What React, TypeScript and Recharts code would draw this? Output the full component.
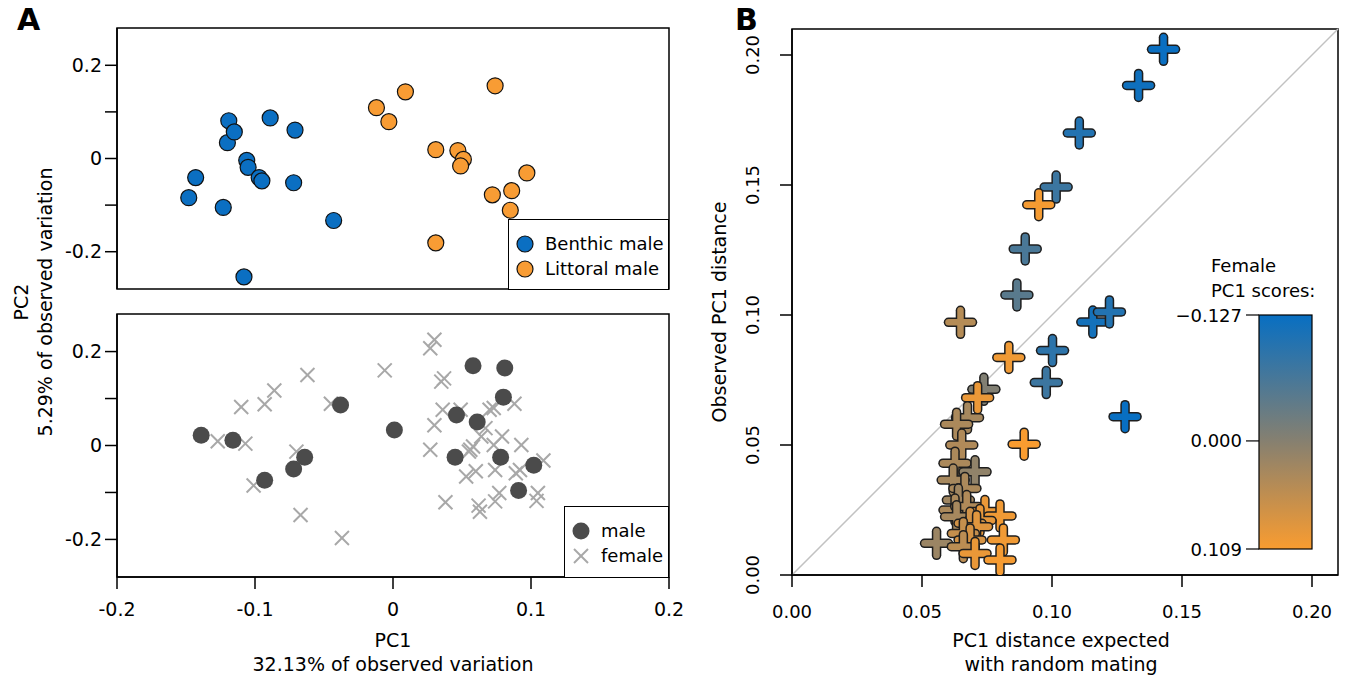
import React from "react";
import {
  Label,
  ReferenceArea,
  ReferenceLine,
  Scatter,
  ScatterChart,
  XAxis,
  YAxis,
} from "recharts";

// ---- panel A (top): male PC scores, [PC1, PC2]
const benthicMale: [number, number][] = [
  [-0.148, -0.084], [-0.143, -0.041], [-0.123, -0.105], [-0.12, 0.034],
  [-0.119, 0.081], [-0.115, 0.057], [-0.106, -0.004], [-0.105, -0.019],
  [-0.097, -0.041], [-0.095, -0.048], [-0.108, -0.254], [-0.089, 0.087],
  [-0.072, -0.052], [-0.071, 0.061], [-0.043, -0.133],
];
const littoralMale: [number, number][] = [
  [-0.012, 0.109], [0.009, 0.143], [-0.003, 0.079], [0.031, 0.019],
  [0.047, 0.017], [0.051, -0.002], [0.049, -0.016], [0.074, 0.156],
  [0.097, -0.031], [0.086, -0.069], [0.072, -0.078], [0.085, -0.111],
  [0.031, -0.181],
];

// ---- panel A (bottom): males and females
const males: [number, number][] = [
  [-0.139, 0.022], [-0.116, 0.011], [-0.093, -0.074], [-0.072, -0.05],
  [-0.064, -0.025], [-0.038, 0.086], [0.001, 0.033], [0.046, 0.065],
  [0.058, 0.17], [0.061, 0.05], [0.081, 0.165], [0.08, 0.103],
  [0.045, -0.025], [0.078, -0.025], [0.102, -0.042], [0.091, -0.096],
];
const females: [number, number][] = [
  [-0.127, 0.009], [-0.11, 0.082], [-0.107, 0.004], [-0.101, -0.085],
  [-0.093, 0.088], [-0.086, 0.117], [-0.07, -0.013], [-0.067, -0.148],
  [-0.062, 0.15], [-0.045, 0.089], [-0.037, -0.197], [-0.006, 0.16],
  [0.027, 0.207], [0.03, 0.225], [0.03, 0.043], [0.027, -0.009],
  [0.035, 0.136], [0.037, 0.143], [0.036, 0.076], [0.038, -0.121],
  [0.049, 0.076], [0.053, -0.066], [0.056, -0.009], [0.058, -0.002],
  [0.055, -0.013], [0.06, -0.055], [0.062, -0.128], [0.063, -0.141],
  [0.064, 0.019], [0.067, 0.037], [0.07, 0.076], [0.073, 0.08],
  [0.073, 0.001], [0.074, -0.052], [0.074, -0.119], [0.077, -0.101],
  [0.079, 0.019], [0.088, 0.089], [0.089, -0.059], [0.093, 0.001],
  [0.092, -0.052], [0.105, -0.101], [0.104, -0.118], [0.109, -0.032],
];

// ---- panel B: [expected distance, observed distance, female PC1 score]
const pairDistances: [number, number, number][] = [
  [0.1429, 0.2022, -0.125], [0.1333, 0.1883, -0.12], [0.1105, 0.17, -0.1],
  [0.1016, 0.1492, -0.075], [0.0949, 0.1424, 0.105], [0.0897, 0.1254, -0.06],
  [0.0865, 0.1077, -0.045], [0.0648, 0.0972, 0.045], [0.1157, 0.0973, -0.115],
  [0.1221, 0.1012, -0.1], [0.1002, 0.0863, -0.09], [0.0978, 0.074, -0.075],
  [0.0738, 0.0714, -0.005], [0.0834, 0.0837, 0.1], [0.0714, 0.0682, 0.095],
  [0.1281, 0.0609, -0.127], [0.0893, 0.0503, 0.109],
  [0.0675, 0.0605, 0.03], [0.0633, 0.058, 0.035], [0.0653, 0.05, 0.04],
  [0.0627, 0.043, 0.035], [0.0704, 0.0397, 0.01], [0.062, 0.0365, 0.03],
  [0.0665, 0.0333, 0.035], [0.064, 0.0288, 0.025], [0.0627, 0.025, 0.035],
  [0.0672, 0.0263, 0.04], [0.0633, 0.0224, 0.03], [0.0742, 0.0244, 0.095],
  [0.08, 0.0227, 0.1], [0.0723, 0.021, 0.09], [0.0685, 0.0199, 0.07],
  [0.071, 0.0186, 0.085], [0.0659, 0.016, 0.06], [0.0556, 0.0122, 0.02],
  [0.0685, 0.0135, 0.075], [0.0813, 0.0135, 0.1], [0.0659, 0.0109, 0.05],
  [0.0704, 0.0083, 0.095], [0.08, 0.0058, 0.105],
];

const A_TICKS = [-0.2, -0.1, 0, 0.1, 0.2];
const B_TICKS = [0, 0.05, 0.1, 0.15, 0.2];
const SCORE_MIN = -0.127;
const SCORE_MAX = 0.109;
const SCORE_LABELS = ["\u22120.127", "0.000", "0.109"];

const FONT = "'DejaVu Sans', sans-serif";
const BLUE = "#0b6fc2";
const ORANGE = "#f89c34";
const STOPS: [number, number[]][] = [
  [SCORE_MIN, [8, 111, 194]],
  [0, [134, 128, 112]],
  [SCORE_MAX, [249, 156, 48]],
];

function scoreColor(s: number) {
  const [lo, hi] = s <= 0 ? [STOPS[0], STOPS[1]] : [STOPS[1], STOPS[2]];
  const t = Math.max(0, Math.min(1, (s - lo[0]) / (hi[0] - lo[0])));
  const c = lo[1].map((v, i) => Math.round(v + (hi[1][i] - v) * t));
  return `rgb(${c.join(",")})`;
}

const toXY = (arr: [number, number][]) => arr.map(([x, y]) => ({ x, y }));

const fmtA = (v: number) => {
  const r = Math.round(v * 10);
  if (r % 2 !== 0) return "";
  return r === 0 ? "0" : String(r / 10);
};

const circle = (fill: string, stroke?: string, r = 8) => (p: any) => (
  <circle cx={p.cx} cy={p.cy} r={r} fill={fill} stroke={stroke ?? "none"} strokeWidth={1.2} />
);

const Cross = (p: any) => {
  const d = 7;
  return (
    <g stroke="#a8a8a8" strokeWidth={2}>
      <line x1={p.cx - d} y1={p.cy - d} x2={p.cx + d} y2={p.cy + d} />
      <line x1={p.cx - d} y1={p.cy + d} x2={p.cx + d} y2={p.cy - d} />
    </g>
  );
};

const Plus = (p: any) => {
  const a = 12;
  const c = scoreColor(p.payload.score);
  const { cx, cy } = p;
  return (
    <g strokeLinecap="round">
      <line x1={cx - a} y1={cy} x2={cx + a} y2={cy} stroke="#1e1e1e" strokeWidth={9.5} />
      <line x1={cx} y1={cy - a} x2={cx} y2={cy + a} stroke="#1e1e1e" strokeWidth={9.5} />
      <line x1={cx - a} y1={cy} x2={cx + a} y2={cy} stroke={c} strokeWidth={6.5} />
      <line x1={cx} y1={cy - a} x2={cx} y2={cy + a} stroke={c} strokeWidth={6.5} />
    </g>
  );
};

const BYTick = (p: any) => (
  <text
    x={p.x}
    y={p.y}
    transform={`rotate(-90 ${p.x} ${p.y})`}
    textAnchor="middle"
    fontSize={18}
    fontFamily={FONT}
    fill="#000"
  >
    {Number(p.payload.value).toFixed(2)}
  </text>
);

const axisStroke = { stroke: "#000", strokeWidth: 1.5 };
const tickA = { fill: "#000", fontSize: 19, fontFamily: FONT };
const tickB = { fill: "#000", fontSize: 18, fontFamily: FONT };

const abs = (left: number, top: number): React.CSSProperties => ({
  position: "absolute",
  left,
  top,
});

function LegendBox({
  left,
  top,
  width,
  height,
  items,
}: {
  left: number;
  top: number;
  width: number;
  height: number;
  items: { label: string; icon: React.ReactNode }[];
}) {
  return (
    <div
      style={{
        ...abs(left, top),
        width,
        height,
        boxSizing: "border-box",
        border: "1.5px solid #000",
        background: "#fff",
        fontFamily: FONT,
        fontSize: 18,
        paddingTop: 11,
        paddingLeft: 6,
      }}
    >
      {items.map((it) => (
        <div key={it.label} style={{ display: "flex", alignItems: "center", height: 25 }}>
          <svg width={20} height={20} style={{ marginRight: 10 }}>
            {it.icon}
          </svg>
          <span>{it.label}</span>
        </div>
      ))}
    </div>
  );
}

function ColorBar() {
  const barTop = 65;
  const barH = 234;
  const zeroY = barTop + ((0 - SCORE_MIN) / (SCORE_MAX - SCORE_MIN)) * barH;
  const tickYs = [barTop, zeroY, barTop + barH];
  return (
    <svg width={170} height={310} style={abs(1170, 250)} fontFamily={FONT}>
      <defs>
        <linearGradient id="scoreGrad" x1="0" y1="0" x2="0" y2="1">
          {STOPS.map(([s, c]) => (
            <stop
              key={s}
              offset={(s - SCORE_MIN) / (SCORE_MAX - SCORE_MIN)}
              stopColor={`rgb(${c.join(",")})`}
            />
          ))}
        </linearGradient>
      </defs>
      <text x={41} y={22} fontSize={18} fill="#000">Female</text>
      <text x={41} y={47} fontSize={18} fill="#000">PC1 scores:</text>
      <rect x={89} y={barTop} width={53} height={barH} fill="url(#scoreGrad)" stroke="#000" strokeWidth={1.2} />
      {tickYs.map((y, i) => (
        <g key={i}>
          <line x1={76} x2={89} y1={y} y2={y} stroke="#000" strokeWidth={1.2} />
          <text x={72} y={y + 6.5} fontSize={18} textAnchor="end" fill="#000">
            {SCORE_LABELS[i]}
          </text>
        </g>
      ))}
    </svg>
  );
}

export default function App() {
  const benthic = toXY(benthicMale);
  const littoral = toXY(littoralMale);
  const male = toXY(males);
  const female = toXY(females);
  const pairs = pairDistances.map(([x, y, score]) => ({ x, y, score }));

  return (
    <div style={{ position: "absolute", left: 0, top: 0, width: 1349, height: 682, background: "#fff" }}>
      {/* A, top */}
      <div style={abs(0, 0)}>
        <ScatterChart width={700} height={300} margin={{ top: 28, right: 31, bottom: 11, left: 0 }}>
          <XAxis type="number" dataKey="x" domain={[-0.2, 0.2]} hide allowDataOverflow />
          <YAxis
            type="number"
            dataKey="y"
            domain={[-0.28, 0.28]}
            ticks={A_TICKS}
            interval={0}
            width={117}
            tickSize={12}
            tickMargin={3}
            tick={tickA}
            tickFormatter={fmtA}
            axisLine={axisStroke}
            tickLine={axisStroke}
            allowDataOverflow
          />
          <ReferenceArea x1={-0.2} x2={0.2} y1={-0.28} y2={0.28} fill="none" stroke="#000" strokeWidth={1.5} ifOverflow="visible" />
          <Scatter data={benthic} fill={BLUE} shape={circle(BLUE, "#111")} isAnimationActive={false} />
          <Scatter data={littoral} fill={ORANGE} shape={circle(ORANGE, "#111")} isAnimationActive={false} />
        </ScatterChart>
      </div>

      {/* A, bottom */}
      <div style={abs(0, 300)}>
        <ScatterChart width={700} height={382} margin={{ top: 14, right: 31, bottom: 0, left: 0 }}>
          <XAxis
            type="number"
            dataKey="x"
            domain={[-0.2, 0.2]}
            ticks={A_TICKS}
            interval={0}
            height={105}
            tickSize={12}
            tickMargin={14}
            tick={tickA}
            tickFormatter={(v: number) => (v === 0 ? "0" : String(v))}
            axisLine={axisStroke}
            tickLine={axisStroke}
            allowDataOverflow
          >
            <Label
              content={() => (
                <text x={393} textAnchor="middle" fontSize={19} fontFamily={FONT} fill="#000">
                  <tspan x={393} y={347}>PC1</tspan>
                  <tspan x={393} y={371}>32.13% of observed variation</tspan>
                </text>
              )}
            />
          </XAxis>
          <YAxis
            type="number"
            dataKey="y"
            domain={[-0.28, 0.28]}
            ticks={A_TICKS}
            interval={0}
            width={117}
            tickSize={12}
            tickMargin={3}
            tick={tickA}
            tickFormatter={fmtA}
            axisLine={axisStroke}
            tickLine={axisStroke}
            allowDataOverflow
          />
          <ReferenceArea x1={-0.2} x2={0.2} y1={-0.28} y2={0.28} fill="none" stroke="#000" strokeWidth={1.5} ifOverflow="visible" />
          <Scatter data={female} fill="#a8a8a8" shape={Cross} isAnimationActive={false} />
          <Scatter data={male} fill="#4b4b4b" shape={circle("#4b4b4b", undefined, 8.5)} isAnimationActive={false} />
        </ScatterChart>
      </div>

      {/* B */}
      <div style={abs(700, 0)}>
        <ScatterChart width={649} height={682} margin={{ top: 29, right: 11, bottom: 0, left: 0 }}>
          <XAxis
            type="number"
            dataKey="x"
            domain={[0, 0.21]}
            ticks={B_TICKS}
            interval={0}
            height={107}
            tickSize={12}
            tickMargin={18}
            tick={tickB}
            tickFormatter={(v: number) => v.toFixed(2)}
            axisLine={axisStroke}
            tickLine={axisStroke}
            allowDataOverflow
          >
            <Label
              content={() => (
                <text textAnchor="middle" fontSize={19} fontFamily={FONT} fill="#000">
                  <tspan x={361} y={647}>PC1 distance expected</tspan>
                  <tspan x={361} y={671}>with random mating</tspan>
                </text>
              )}
            />
          </XAxis>
          <YAxis
            type="number"
            dataKey="y"
            domain={[0, 0.21]}
            ticks={B_TICKS}
            interval={0}
            width={92}
            tickSize={12}
            tickMargin={21}
            tick={BYTick}
            axisLine={axisStroke}
            tickLine={axisStroke}
            allowDataOverflow
          >
            <Label
              content={() => (
                <text
                  x={26}
                  y={312}
                  transform="rotate(-90 26 312)"
                  textAnchor="middle"
                  fontSize={19}
                  fontFamily={FONT}
                  fill="#000"
                >
                  Observed PC1 distance
                </text>
              )}
            />
          </YAxis>
          <ReferenceArea x1={0} x2={0.21} y1={0} y2={0.21} fill="none" stroke="#000" strokeWidth={1.5} ifOverflow="visible" />
          <ReferenceLine
            segment={[{ x: 0, y: 0 }, { x: 0.21, y: 0.21 }]}
            stroke="#c2c2c2"
            strokeWidth={1.5}
          />
          <Scatter data={pairs} fill="#888" shape={Plus} isAnimationActive={false} />
        </ScatterChart>
      </div>

      {/* shared y title of panel A */}
      <div
        style={{
          ...abs(33, 302),
          transform: "translate(-50%, -50%) rotate(-90deg)",
          whiteSpace: "nowrap",
          textAlign: "center",
          fontFamily: FONT,
          fontSize: 19,
          lineHeight: "24px",
        }}
      >
        PC2
        <br />
        5.29% of observed variation
      </div>

      <LegendBox
        left={508}
        top={219}
        width={161}
        height={71}
        items={[
          { label: "Benthic male", icon: <circle cx={10} cy={10} r={8} fill={BLUE} stroke="#111" strokeWidth={1.2} /> },
          { label: "Littoral male", icon: <circle cx={10} cy={10} r={8} fill={ORANGE} stroke="#111" strokeWidth={1.2} /> },
        ]}
      />
      <LegendBox
        left={564}
        top={506}
        width={105}
        height={72}
        items={[
          { label: "male", icon: <circle cx={10} cy={10} r={8.5} fill="#4b4b4b" /> },
          {
            label: "female",
            icon: (
              <g stroke="#a8a8a8" strokeWidth={2}>
                <line x1={3} y1={3} x2={17} y2={17} />
                <line x1={3} y1={17} x2={17} y2={3} />
              </g>
            ),
          },
        ]}
      />

      <ColorBar />

      <div style={{ ...abs(17, 2), fontFamily: FONT, fontWeight: "bold", fontSize: 30 }}>A</div>
      <div style={{ ...abs(735, 2), fontFamily: FONT, fontWeight: "bold", fontSize: 30 }}>B</div>
    </div>
  );
}
